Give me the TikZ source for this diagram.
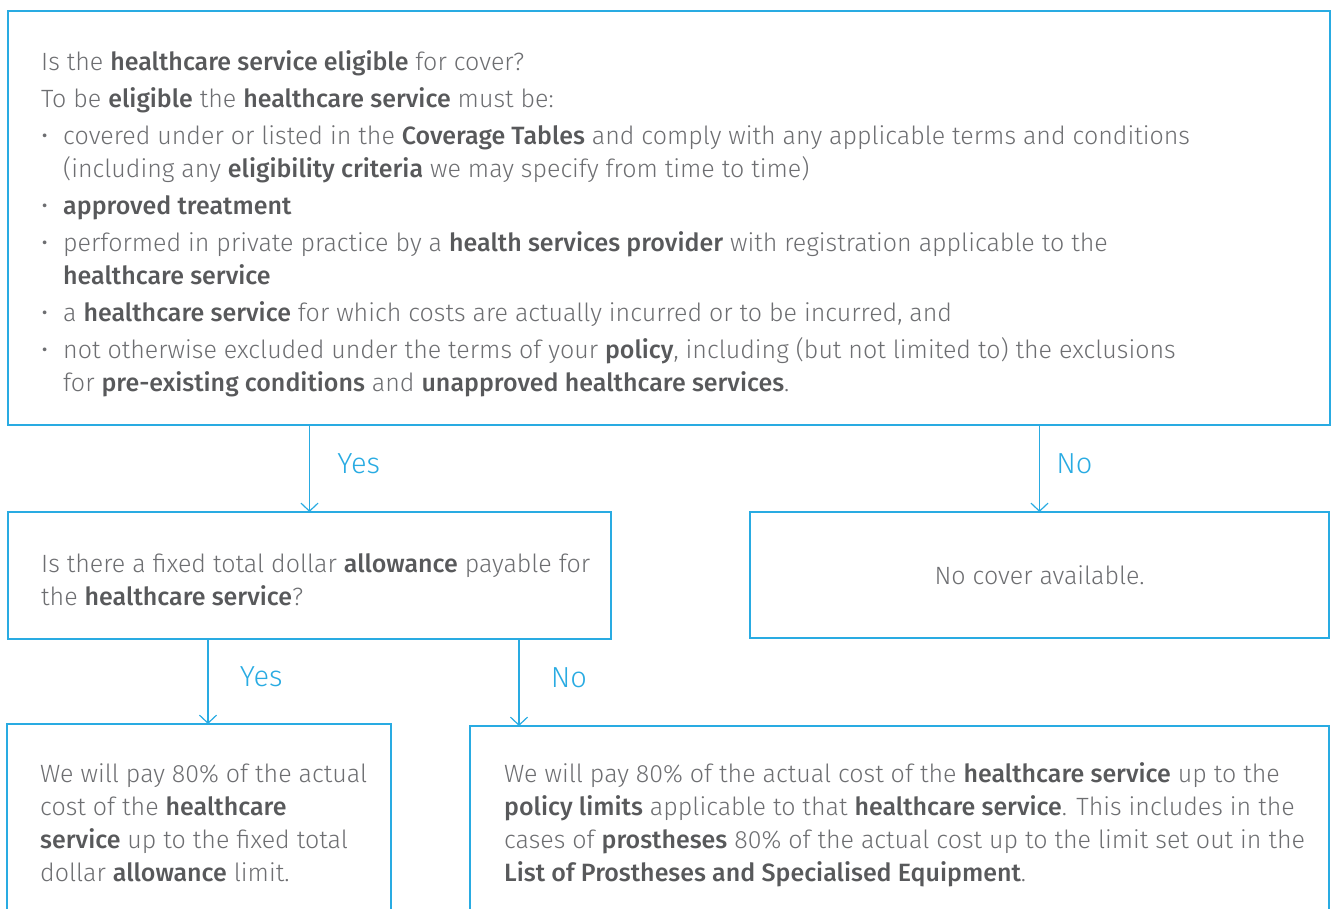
\documentclass[tikz,border=0pt]{standalone}
\usepackage{fontspec}
\setmainfont{Fira Sans}[UprightFont=* Light, BoldFont=* Medium]
\usepackage{xcolor}
\usetikzlibrary{arrows.meta}
\definecolor{linecyan}{HTML}{29ABE2}
\definecolor{textgrey}{HTML}{6D6E71}
\definecolor{boldgrey}{HTML}{58595B}
\newcommand{\hl}[1]{{\bfseries\color{boldgrey}#1}}
\newcommand{\bul}{\makebox[22pt][l]{\textbullet}}
\tikzstyle{panel} = [rectangle, anchor=north west, draw=linecyan, line width=1.2pt, outer sep=0pt, inner sep=0pt, text=textgrey, font=\fontsize{25}{33}\selectfont]
\tikzstyle{outcome} = [panel, draw=none]
\tikzstyle{blurb} = [align=left, anchor=west, inner sep=0pt, text=textgrey, font=\fontsize{25}{33}\selectfont]
\tikzstyle{choice} = [text=linecyan, font=\fontsize{29}{29}\selectfont, yshift=5pt]
\tikzstyle{arrow} = [draw=linecyan, line width=1.2pt, -{Straight Barb[length=8pt,width=17pt]}]
\tikzstyle{border} = [draw=linecyan, line width=1.2pt]

\begin{document}
\begin{tikzpicture}[x=1pt, y=-1pt]
	\useasboundingbox (0,0) rectangle (1335,909);
	
	\node (elig) [panel, minimum width=1322pt, minimum height=414pt] at (8,11) {};
	\node (eligtext) [blurb] at ([xshift=33pt, yshift=-6pt]elig.west) {Is the \hl{healthcare service eligible} for cover?\\[4pt]
		To be \hl{eligible} the \hl{healthcare service} must be:\\[4pt]
		\bul covered under or listed in the \hl{Coverage Tables} and comply with any applicable terms and conditions\\
		\hspace*{22pt}(including any \hl{eligibility criteria} we may specify from time to time)\\[4pt]
		\bul\hl{approved treatment}\\[4pt]
		\bul performed in private practice by a \hl{health services provider} with registration applicable to the\\
		\hspace*{22pt}\hl{healthcare service}\\[4pt]
		\bul a \hl{healthcare service} for which costs are actually incurred or to be incurred, and\\[4pt]
		\bul not otherwise excluded under the terms of your \hl{policy}, including (but not limited to) the exclusions\\
		\hspace*{22pt}for \hl{pre-existing conditions} and \hl{unapproved healthcare services}.};
	
	\node (fixed) [panel, minimum width=603pt, minimum height=127pt] at (8,512) {};
	\node (fixedtext) [blurb] at ([xshift=33pt, yshift=-4pt]fixed.west) {Is there a fixed total dollar \hl{allowance} payable for\\the \hl{healthcare service}?};
	\node (nocover) [panel, minimum width=579pt, minimum height=126pt] at (750,512) {No cover available.};
	
	\draw [arrow] (elig.south -| fixed.north) -- node[choice, right=24pt] {Yes} (fixed.north);
	\draw [arrow] (elig.south -| nocover.north) -- node[choice, right=13pt] {No} (nocover.north);
	
	\node (fixedpay) [outcome, minimum width=384pt, minimum height=196pt] at (7,724) {};
	\node (fixedpaytext) [blurb] at ([xshift=33pt, yshift=-99pt]fixedpay.north west) {We will pay 80\% of the actual\\cost of the \hl{healthcare}\\\hl{service} up to the fixed total\\dollar \hl{allowance} limit.};
	\node (limits) [outcome, minimum width=859pt, minimum height=195pt] at (470,726) {};
	\node (limitstext) [blurb] at ([xshift=34pt, yshift=-99pt]limits.north west) {We will pay 80\% of the actual cost of the \hl{healthcare service} up to the\\
		\hl{policy limits} applicable to that \hl{healthcare service}. This includes in the\\
		cases of \hl{prostheses} 80\% of the actual cost up to the limit set out in the\\
		\hl{List of Prostheses and Specialised Equipment}.};
	
	\draw [border] (fixedpay.south west) -- (fixedpay.north west) -- (fixedpay.north east) -- (fixedpay.south east);
	\draw [border] (limits.south west) -- (limits.north west) -- (limits.north east) -- (limits.south east);
	
	\draw [arrow] ([xshift=200pt]fixed.south west) -- node[choice, right=28pt] {Yes} ([xshift=201pt]fixedpay.north west);
	\draw [arrow] ([xshift=-92pt]fixed.south east) -- node[choice, right=28pt] {No} ([xshift=49pt]limits.north west);
	
\end{tikzpicture}
\end{document}
